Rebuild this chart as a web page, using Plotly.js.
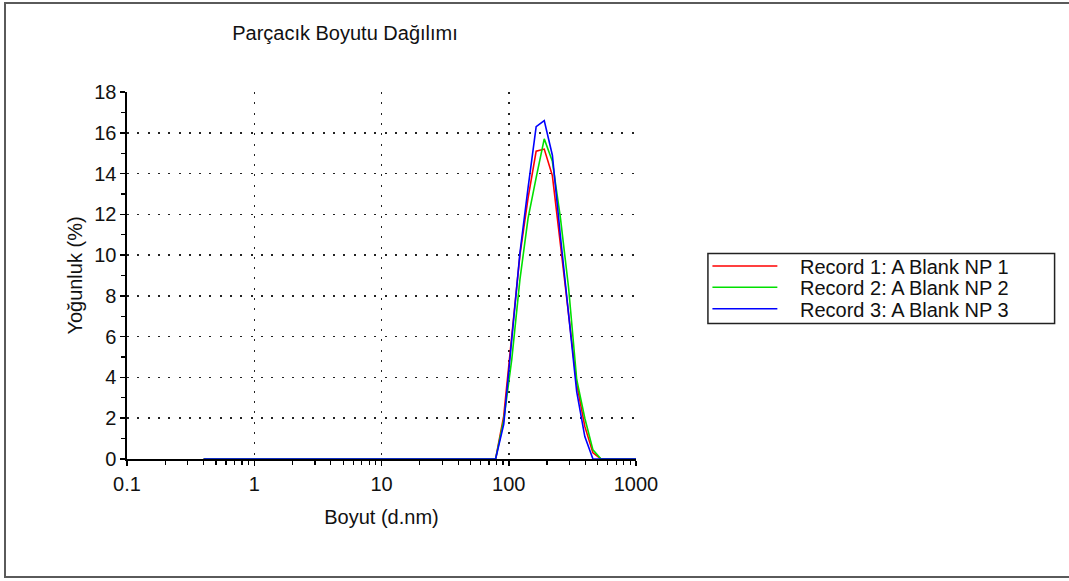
<!DOCTYPE html>
<html>
<head>
<meta charset="utf-8">
<script src="https://cdn.plot.ly/plotly-3.0.1.min.js"></script>
<style>
  html, body { margin: 0; padding: 0; background: #fff; overflow: hidden; }
  #chart { position: absolute; left: 0; top: 0; width: 1069px; height: 581px; }
  #frame {
    position: absolute; left: 4px; top: 2px; width: 1200px; height: 576px;
    box-sizing: border-box; border: 2px solid #5a5a5a; pointer-events: none; z-index: 5;
  }
</style>
</head>
<body>
<div id="chart"></div>
<div id="frame"></div>
<script>
// Size classes (d.nm), log-spaced DLS bins
const sizes = [0.4, 0.4632, 0.5365, 0.6213, 0.7195, 0.8332, 0.9649, 1.117, 1.294, 1.499,
  1.736, 2.01, 2.328, 2.696, 3.122, 3.615, 4.187, 4.849, 5.615, 6.503,
  7.531, 8.721, 10.1, 11.7, 13.54, 15.69, 18.17, 21.04, 24.36, 28.21,
  32.67, 37.84, 43.82, 50.75, 58.77, 68.06, 78.82, 91.28, 105.7, 122.4,
  141.8, 164.2, 190.1, 220.2, 255.0, 295.3, 342.0, 396.1, 458.7, 531.2,
  615.1, 712.4, 825.0, 955.4, 1106];

// Intensity (%) per size class for each record
const record1 = [0, 0, 0, 0, 0, 0, 0, 0, 0, 0,
  0, 0, 0, 0, 0, 0, 0, 0, 0, 0,
  0, 0, 0, 0, 0, 0, 0, 0, 0, 0,
  0, 0, 0, 0, 0, 0, 0, 2.1, 6.1, 10.0,
  12.8, 15.1, 15.2, 13.9, 10.5, 7.2, 3.7, 1.6, 0.3, 0,
  0, 0, 0, 0, 0];
const record2 = [0, 0, 0, 0, 0, 0, 0, 0, 0, 0,
  0, 0, 0, 0, 0, 0, 0, 0, 0, 0,
  0, 0, 0, 0, 0, 0, 0, 0, 0, 0,
  0, 0, 0, 0, 0, 0, 0, 1.9, 4.9, 8.8,
  11.8, 13.8, 15.7, 14.6, 11.8, 8.4, 3.9, 2.0, 0.45, 0,
  0, 0, 0, 0, 0];
const record3 = [0, 0, 0, 0, 0, 0, 0, 0, 0, 0,
  0, 0, 0, 0, 0, 0, 0, 0, 0, 0,
  0, 0, 0, 0, 0, 0, 0, 0, 0, 0,
  0, 0, 0, 0, 0, 0, 0, 1.7, 5.8, 10.1,
  13.3, 16.3, 16.6, 14.9, 10.9, 7.0, 3.3, 1.1, 0, 0,
  0, 0, 0, 0, 0];

const recordNames = ['Record 1: A Blank NP 1', 'Record 2: A Blank NP 2', 'Record 3: A Blank NP 3'];
const recordColors = ['#ff0000', '#00e000', '#0000ff'];
const xTickVals = [0.1, 1, 10, 100, 1000];
const xTickText = ['0.1', '1', '10', '100', '1000'];

const FONT = 'Liberation Sans, Arial, Helvetica, sans-serif';
const FS = 20;

// plot area in pixels
const W = 1069, H = 581;
const M = { l: 127, r: 432.5, t: 92, b: 122 };
const plotW = W - M.l - M.r, plotH = H - M.t - M.b;
const px = x => (x - M.l) / plotW;          // pixel -> paper x
const py = y => (H - M.b - y) / plotH;      // pixel -> paper y

const series = [record1, record2, record3];
const traces = series.map((ys, i) => ({
  type: 'scatter', mode: 'lines', x: sizes, y: ys, name: recordNames[i],
  line: { color: recordColors[i], width: 1.6 }, showlegend: false, hoverinfo: 'skip'
}));

// legend drawn as a boxed key to the right of the plot
const shapes = [{
  type: 'rect', xref: 'paper', yref: 'paper',
  x0: px(708.5), x1: px(1055.5), y0: py(323.5), y1: py(253.5),
  line: { color: '#222', width: 1.5 }, fillcolor: 'rgba(0,0,0,0)'
}];
const annotations = [];
const rowY = [266, 287.3, 308.7];
recordNames.forEach((name, i) => {
  shapes.push({
    type: 'line', xref: 'paper', yref: 'paper',
    x0: px(713), x1: px(778), y0: py(rowY[i]), y1: py(rowY[i]),
    line: { color: recordColors[i], width: 1.6 }
  });
  annotations.push({
    xref: 'paper', yref: 'paper', x: px(799), y: py(rowY[i] + 1),
    xanchor: 'left', yanchor: 'middle', showarrow: false, text: name,
    font: { family: FONT, size: FS, color: '#111' }
  });
});

const gridDash = '2px,8.3px';

const layout = {
  width: W, height: H,
  margin: M,
  paper_bgcolor: '#fff', plot_bgcolor: '#fff',
  font: { family: FONT, size: FS, color: '#111' },
  title: {
    text: 'Parçacık Boyutu Dağılımı',
    font: { family: FONT, size: FS, color: '#111' },
    xref: 'container', yref: 'container',
    x: 345 / W, xanchor: 'center', y: 1 - 33 / H, yanchor: 'middle'
  },
  xaxis: {
    type: 'log', range: [-1, 3],
    tickmode: 'array', tickvals: xTickVals, ticktext: xTickText,
    ticks: 'outside', ticklen: 5, tickwidth: 1.5, tickcolor: '#000',
    ticklabelstandoff: 1,
    minor: { ticks: 'outside', ticklen: 4, tickwidth: 1.2, tickcolor: '#000', dtick: 'D1', showgrid: false },
    showline: true, linecolor: '#000', linewidth: 1.6,
    showgrid: true, gridcolor: '#222', gridwidth: 1.5, griddash: gridDash,
    zeroline: false, automargin: true,
    title: { text: 'Boyut (d.nm)', standoff: 16, font: { family: FONT, size: FS, color: '#111' } },
    fixedrange: true
  },
  yaxis: {
    range: [0, 18], dtick: 2, tick0: 0,
    ticks: 'outside', ticklen: 5, tickwidth: 1.5, tickcolor: '#000',
    minor: { ticks: 'outside', ticklen: 4, tickwidth: 1.2, tickcolor: '#000', dtick: 1, showgrid: false },
    showline: true, linecolor: '#000', linewidth: 1.6,
    showgrid: true, gridcolor: '#222', gridwidth: 1.5, griddash: gridDash,
    zeroline: false, automargin: true,
    title: { text: 'Yoğunluk (%)', standoff: 6, font: { family: FONT, size: FS, color: '#111' } },
    fixedrange: true
  },
  shapes: shapes,
  annotations: annotations,
  showlegend: false
};

Plotly.newPlot('chart', traces, layout, { displayModeBar: false, staticPlot: true });
</script>
</body>
</html>
